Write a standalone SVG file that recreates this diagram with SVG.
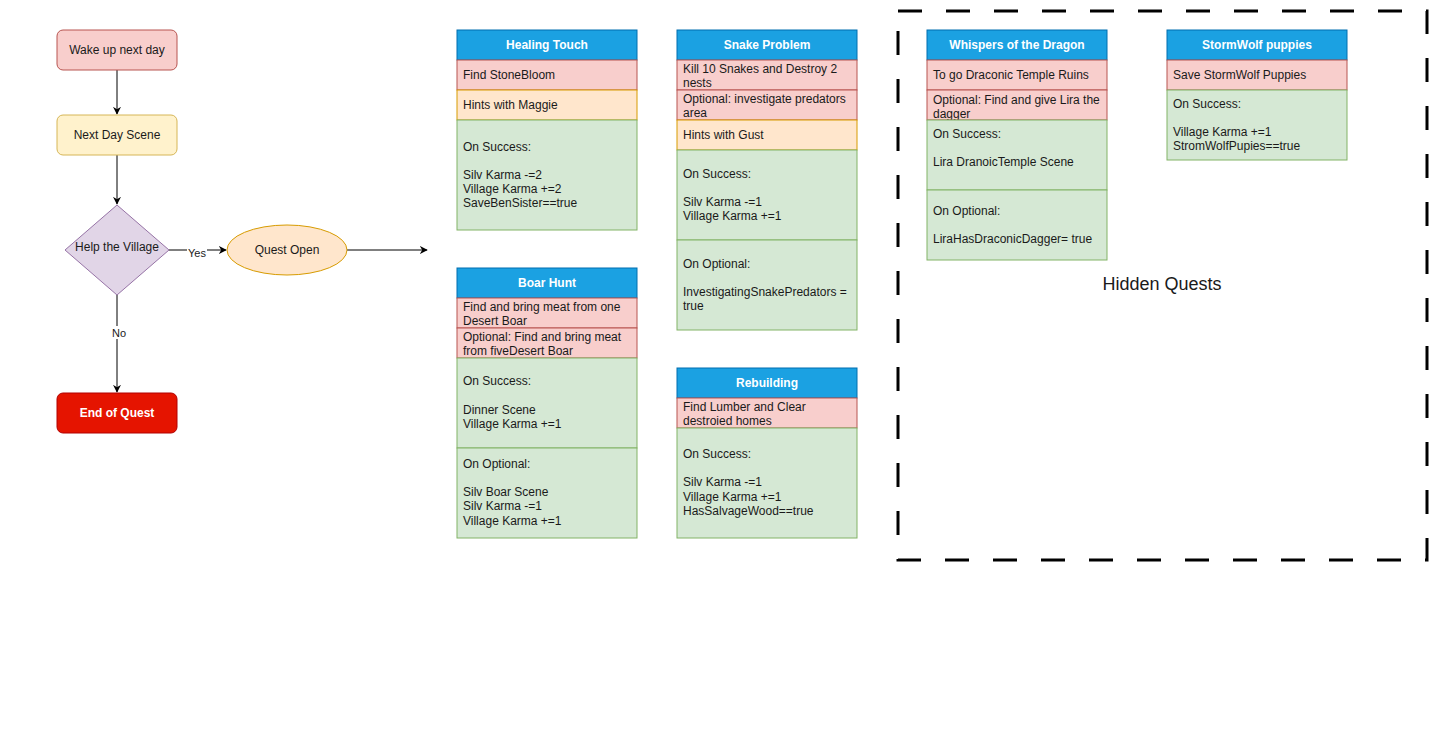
<svg xmlns="http://www.w3.org/2000/svg" width="1443" height="731" viewBox="0 0 1443 731">
<style>
text{font-family:"Liberation Sans",Arial,sans-serif;font-size:12px;fill:#1a1a1a}
.c{text-anchor:middle}
.h{font-weight:bold;fill:#ffffff;text-anchor:middle}
.hd{fill:#1ba1e2;stroke:#006eaf}
.r{fill:#f8cecc;stroke:#b85450}
.o{fill:#ffe6cc;stroke:#d79b00}
.g{fill:#d5e8d4;stroke:#82b366}
.e{stroke:#000;stroke-width:1;fill:none}
.lbl{font-size:11px}
</style>
<defs>
<marker id="arr" viewBox="0 0 10 10" refX="9" refY="5" markerWidth="8" markerHeight="8" markerUnits="userSpaceOnUse" orient="auto">
<path d="M0,0 L10,5 L0,10 L3,5 Z" fill="#000"/>
</marker>
<clipPath id="clipW"><rect x="927" y="90" width="180" height="30"/></clipPath>
</defs>
<rect width="1443" height="731" fill="#ffffff"/>

<g id="connectors">
<line class="e" x1="117" y1="70" x2="117" y2="114" marker-end="url(#arr)"/>
<line class="e" x1="117" y1="155" x2="117" y2="204" marker-end="url(#arr)"/>
<line class="e" x1="169" y1="250" x2="226" y2="250" marker-end="url(#arr)"/>
<rect x="187" y="246" width="20" height="12" fill="#fff"/>
<text class="lbl c" x="197" y="257">Yes</text>
<line class="e" x1="117" y1="295" x2="117" y2="392" marker-end="url(#arr)"/>
<rect x="110" y="326" width="18" height="13" fill="#fff"/>
<text class="lbl c" x="119" y="337">No</text>
<line class="e" x1="347" y1="250" x2="427" y2="250" marker-end="url(#arr)"/>
</g>

<g id="wake">
<rect x="57" y="30" width="120" height="40" rx="6" fill="#f8cecc" stroke="#b85450"/>
<text class="c" x="117" y="54">Wake up next day</text>
</g>
<g id="nextday">
<rect x="57" y="115" width="120" height="40" rx="6" fill="#fff2cc" stroke="#d6b656"/>
<text class="c" x="117" y="139">Next Day Scene</text>
</g>
<g id="help">
<polygon points="117,205 169,250 117,295 65,250" fill="#e1d5e7" stroke="#9673a6"/>
<text class="c" x="117" y="251">Help the Village</text>
</g>
<g id="questopen">
<ellipse cx="287" cy="250" rx="60" ry="25" fill="#ffe6cc" stroke="#d79b00"/>
<text class="c" x="287" y="254">Quest Open</text>
</g>
<g id="endquest">
<rect x="57" y="393" width="120" height="40" rx="6" fill="#e51400" stroke="#b20000"/>
<text class="h" x="117" y="417">End of Quest</text>
</g>

<g id="healing">
<rect class="hd" x="457" y="30" width="180" height="30"/>
<text class="h" x="547" y="49">Healing Touch</text>
<rect class="r" x="457" y="60" width="180" height="30"/>
<text x="463" y="79">Find StoneBloom</text>
<rect class="o" x="457" y="90" width="180" height="30"/>
<text x="463" y="109">Hints with Maggie</text>
<rect class="g" x="457" y="120" width="180" height="110"/>
<text x="463" y="151">On Success:</text>
<text x="463" y="179">Silv Karma -=2</text>
<text x="463" y="193">Village Karma +=2</text>
<text x="463" y="207">SaveBenSister==true</text>
</g>

<g id="snake">
<rect class="hd" x="677" y="30" width="180" height="30"/>
<text class="h" x="767" y="49">Snake Problem</text>
<rect class="r" x="677" y="60" width="180" height="30"/>
<text x="683" y="73">Kill 10 Snakes and Destroy 2</text>
<text x="683" y="87">nests</text>
<rect class="r" x="677" y="90" width="180" height="30"/>
<text x="683" y="103">Optional: investigate predators</text>
<text x="683" y="117">area</text>
<rect class="o" x="677" y="120" width="180" height="30"/>
<text x="683" y="139">Hints with Gust</text>
<rect class="g" x="677" y="150" width="180" height="90"/>
<text x="683" y="178">On Success:</text>
<text x="683" y="206">Silv Karma -=1</text>
<text x="683" y="220">Village Karma +=1</text>
<rect class="g" x="677" y="240" width="180" height="90"/>
<text x="683" y="268">On Optional:</text>
<text x="683" y="296">InvestigatingSnakePredators =</text>
<text x="683" y="310">true</text>
</g>

<g id="boar">
<rect class="hd" x="457" y="268" width="180" height="30"/>
<text class="h" x="547" y="287">Boar Hunt</text>
<rect class="r" x="457" y="298" width="180" height="30"/>
<text x="463" y="311">Find and bring meat from one</text>
<text x="463" y="325">Desert Boar</text>
<rect class="r" x="457" y="328" width="180" height="30"/>
<text x="463" y="341">Optional: Find and bring meat</text>
<text x="463" y="355">from fiveDesert Boar</text>
<rect class="g" x="457" y="358" width="180" height="90"/>
<text x="463" y="385">On Success:</text>
<text x="463" y="414">Dinner Scene</text>
<text x="463" y="428">Village Karma +=1</text>
<rect class="g" x="457" y="448" width="180" height="90"/>
<text x="463" y="468">On Optional:</text>
<text x="463" y="496">Silv Boar Scene</text>
<text x="463" y="510">Silv Karma -=1</text>
<text x="463" y="525">Village Karma +=1</text>
</g>

<g id="rebuilding">
<rect class="hd" x="677" y="368" width="180" height="30"/>
<text class="h" x="767" y="387">Rebuilding</text>
<rect class="r" x="677" y="398" width="180" height="30"/>
<text x="683" y="411">Find Lumber and Clear</text>
<text x="683" y="425">destroied homes</text>
<rect class="g" x="677" y="428" width="180" height="110"/>
<text x="683" y="458">On Success:</text>
<text x="683" y="486">Silv Karma -=1</text>
<text x="683" y="501">Village Karma +=1</text>
<text x="683" y="515">HasSalvageWood==true</text>
</g>

<g id="hidden">
<rect x="898" y="11" width="529" height="549" fill="none" stroke="#000" stroke-width="3" stroke-dasharray="24 24"/>
<text class="c" x="1162" y="290" style="font-size:18px">Hidden Quests</text>
</g>

<g id="whispers">
<rect class="hd" x="927" y="30" width="180" height="30"/>
<text class="h" x="1017" y="49">Whispers of the Dragon</text>
<rect class="r" x="927" y="60" width="180" height="30"/>
<text x="933" y="79">To go Draconic Temple Ruins</text>
<rect class="r" x="927" y="90" width="180" height="30"/>
<g clip-path="url(#clipW)">
<text x="933" y="104">Optional: Find and give Lira the</text>
<text x="933" y="118">dagger</text>
</g>
<rect class="g" x="927" y="120" width="180" height="70"/>
<text x="933" y="138">On Success:</text>
<text x="933" y="166">Lira DranoicTemple Scene</text>
<rect class="g" x="927" y="190" width="180" height="70"/>
<text x="933" y="215">On Optional:</text>
<text x="933" y="243">LiraHasDraconicDagger= true</text>
</g>

<g id="stormwolf">
<rect class="hd" x="1167" y="30" width="180" height="30"/>
<text class="h" x="1257" y="49">StormWolf puppies</text>
<rect class="r" x="1167" y="60" width="180" height="30"/>
<text x="1173" y="79">Save StormWolf Puppies</text>
<rect class="g" x="1167" y="90" width="180" height="70"/>
<text x="1173" y="108">On Success:</text>
<text x="1173" y="136">Village Karma +=1</text>
<text x="1173" y="150">StromWolfPupies==true</text>
</g>
</svg>
